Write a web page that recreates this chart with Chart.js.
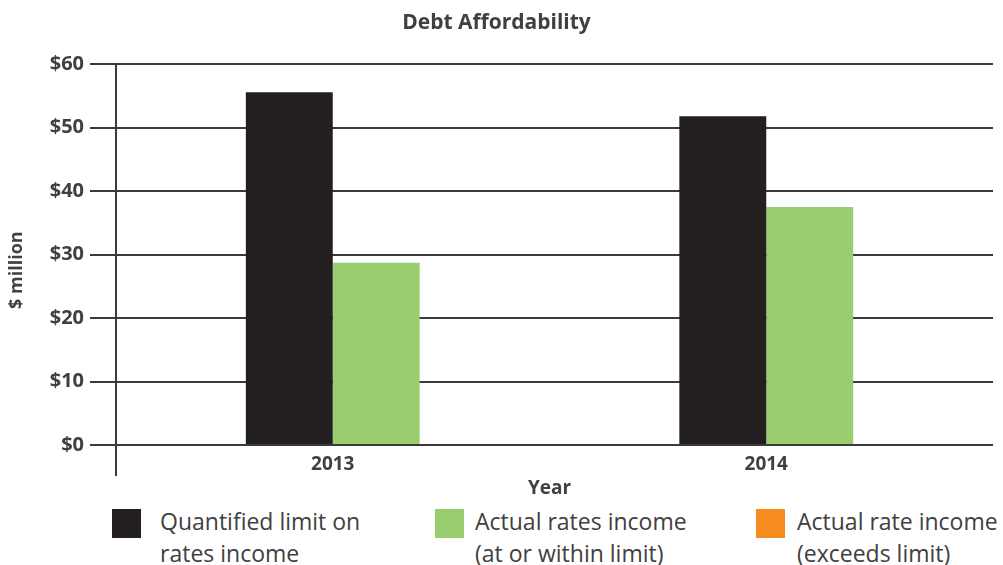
<!DOCTYPE html>
<html>
<head>
<meta charset="utf-8">
<script src="https://cdn.jsdelivr.net/npm/chart.js@4"></script>
<style>
  body { margin: 0; background: #fff; font-family: "Open Sans", sans-serif; color: #404040; }
  #wrap { position: relative; width: 1003px; height: 565px; overflow: hidden; }
  #chartBox { position: absolute; left: 0; top: 0; width: 1003px; height: 500px; }
  .leg { position: absolute; top: 506px; }
  .leg .sw { position: absolute; left: 0; top: 3px; width: 29px; height: 29px; }
  .leg .tx { position: absolute; left: 0; top: -1px; font-size: 23px; line-height: 32px; white-space: nowrap; }
</style>
</head>
<body>
<div id="wrap">
  <div id="chartBox"><canvas id="myChart"></canvas></div>
  <div id="legend"></div>
</div>
<script>
// data
const years = ["2013", "2014"];
const quantLimit = [55.6, 51.8];
const actualWithin = [28.7, 37.5];
const actualExceeds = [null, null];
const yTicks = [0, 10, 20, 30, 40, 50, 60];

const seriesNames = [
  ["Quantified limit on", "rates income"],
  ["Actual rates income", "(at or within limit)"],
  ["Actual rate income", "(exceeds limit)"]
];
const seriesColors = ["#231f20", "#9acd6f", "#f68b1f"];

const textColor = "#404040";
const lineColor = "#3a3a3a";
const yTitleText = "$ million";

// legend (two-line labels, so built as html)
const legendPos = [[112, 160], [435, 475], [756, 797]];
const legendDiv = document.getElementById('legend');
seriesNames.forEach((name, i) => {
  const item = document.createElement('div');
  item.className = 'leg';
  item.style.left = legendPos[i][0] + 'px';
  item.innerHTML = '<div class="sw" style="background:' + seriesColors[i] + '"></div>' +
    '<div class="tx" style="left:' + (legendPos[i][1] - legendPos[i][0]) + 'px">' + name.join('<br>') + '</div>';
  legendDiv.appendChild(item);
});

// y title: the original centres it on the axis line including the stub below the plot
const yTitlePlugin = {
  id: 'yTitlePlugin',
  afterDraw(c) {
    const g = c.ctx;
    const a = c.chartArea;
    const stub = c.options.scales.x.grid.tickLength;
    g.save();
    g.translate(17, (a.top + a.bottom + stub) / 2);
    g.rotate(-Math.PI / 2);
    g.font = "bold 18px 'Open Sans'";
    g.fillStyle = textColor;
    g.textAlign = "center";
    g.textBaseline = "middle";
    g.fillText(yTitleText, 0, 0);
    g.restore();
  }
};

let ctx = document.getElementById('myChart').getContext("2d");
let chart = new Chart(ctx, {
  type: "bar",
  data: {
    labels: years,
    datasets: [
      { label: seriesNames[0].join(' '), data: quantLimit, backgroundColor: seriesColors[0] },
      { label: seriesNames[1].join(' '), data: actualWithin, backgroundColor: seriesColors[1] },
      { label: seriesNames[2].join(' '), data: actualExceeds, backgroundColor: seriesColors[2] }
    ]
  },
  plugins: [yTitlePlugin],
  options: {
    responsive: true,
    maintainAspectRatio: false,
    animation: false,
    skipNull: true,
    categoryPercentage: 0.401,
    barPercentage: 1,
    layout: { padding: { top: 0, right: 10, bottom: 0, left: 0 } },
    plugins: {
      legend: { display: false },
      tooltip: { enabled: false },
      title: {
        display: true,
        text: "Debt Affordability",
        color: textColor,
        font: { family: "Open Sans", size: 21, weight: "bold" },
        padding: { top: 10, bottom: 29 }
      }
    },
    scales: {
      x: {
        grid: {
          offset: true,
          drawOnChartArea: false,
          tickLength: 31,
          lineWidth: 2,
          color: (c) => c.index === 0 ? lineColor : "rgba(0,0,0,0)"
        },
        border: { color: lineColor, width: 2 },
        ticks: {
          color: textColor,
          padding: -23,
          font: { family: "Open Sans", size: 19, weight: "bold" }
        },
        title: {
          display: true,
          text: "Year",
          color: textColor,
          font: { family: "Open Sans", size: 19, weight: "bold" },
          padding: { top: 0, bottom: 0 }
        },
        afterFit: (scale) => { scale.height = 55; }
      },
      y: {
        min: 0,
        max: 60,
        afterBuildTicks: (scale) => { scale.ticks = yTicks.map(v => ({ value: v })); },
        grid: { color: lineColor, lineWidth: 2, tickLength: 26 },
        border: { color: lineColor, width: 2 },
        ticks: {
          color: textColor,
          padding: 6,
          font: { family: "Open Sans", size: 20, weight: "bold" },
          callback: (v) => "$" + v
        },
        afterFit: (scale) => { scale.width = 116; }
      },
      yRight: {
        position: "right",
        min: 0,
        max: 60,
        afterBuildTicks: (scale) => { scale.ticks = yTicks.map(v => ({ value: v })); },
        grid: { color: lineColor, lineWidth: 2, tickLength: 10, drawOnChartArea: false },
        border: { display: false },
        ticks: { display: false }
      }
    }
  }
});
</script>
</body>
</html>
